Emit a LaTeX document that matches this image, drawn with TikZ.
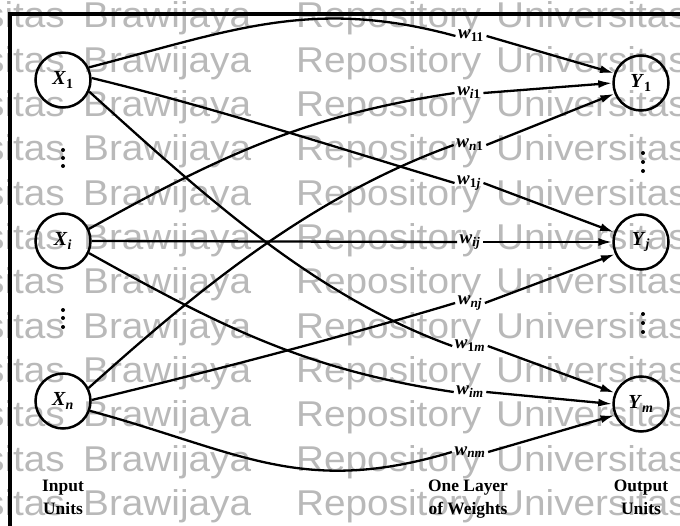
\documentclass[tikz,border=0pt]{standalone}
\usepackage{fontspec}
\setmainfont{Liberation Serif}
\newfontfamily\wmfont[FakeStretch=1.08]{Liberation Sans}
\usetikzlibrary{arrows.meta}
\definecolor{wmgray}{RGB}{185,185,185}
\newcommand\lab[2]{\textit{#1}\textsubscript{#2}}
\tikzset{
  unit/.style={circle, draw, line width=2.5bp, minimum size=55bp, inner sep=0pt, font=\fontsize{20}{22}\selectfont\bfseries},
  wlab/.style={inner sep=2.5bp, font=\fontsize{19}{21}\selectfont\bfseries},
  conn/.style={line width=2.3bp},
  arr/.style={conn, -{Latex[length=14bp,width=8bp]}},
  capt/.style={align=center, font=\fontsize{17.5}{23}\selectfont\bfseries, anchor=north, inner sep=0pt},
  wm/.style={text=wmgray, font=\wmfont\fontsize{36}{36}\selectfont, inner sep=0pt},
  vdot/.style={circle, fill, inner sep=0pt, minimum size=4bp},
  frame/.style={line width=4bp}
}
\begin{document}
\begin{tikzpicture}[x=1bp,y=-1bp]
\useasboundingbox (0,0) rectangle (680,526);
% watermark
\begin{scope}
\clip (0,0) rectangle (680,526);
\foreach \k in {0,...,11}{
  \pgfmathsetmacro\yy{28+44.3*\k}
  \node[wm, anchor=base east] (wa\k) at (65,\yy) {sitas};
  \node[wm, anchor=base west] (wb\k) at (83,\yy) {Brawijaya};
  \node[wm, anchor=base west] (wc\k) at (296,\yy) {Repository};
  \node[wm, anchor=base west] (wd\k) at (496,\yy) {Universitas};
}
\end{scope}
% frame
\coordinate (fb) at (10,526);
\coordinate (fc) at (10,14);
\coordinate (fr) at (680,14);
\draw[frame] (fb) -- (fc) -- (fr);
% units
\node[unit] (X1) at (63,80) {\lab{X}{1}};
\node[unit] (Xi) at (63,241) {\lab{X}{\textit{i}}};
\node[unit] (Xn) at (63,401) {\lab{X}{\textit{n}}};
\node[unit] (Y1) at (641,83) {\lab{Y}{1}};
\node[unit] (Yj) at (641,242) {\lab{Y}{\textit{j}}};
\node[unit] (Ym) at (641,404) {\lab{Y}{\textit{m}}};
% dots
\foreach \p/\q [count=\c] in {63/150,63/158,63/166,63/310,63/318,63/327,643/153,643/162,643/171,643/314,643/323,643/332}{
  \node[vdot] (d\c) at (\p,\q) {};
}
% weight labels
\node[wlab] (w11) at (471,36) {\lab{w}{11}};
\node[wlab] (wi1) at (469,93) {\lab{w}{\textit{i}1}};
\node[wlab] (wn1) at (470,145) {\lab{w}{\textit{n}1}};
\node[wlab] (w1j) at (469,183) {\lab{w}{1\textit{j}}};
\node[wlab] (wij) at (470,242) {\lab{w}{\textit{ij}}};
\node[wlab] (wnj) at (470,303) {\lab{w}{\textit{nj}}};
\node[wlab] (w1m) at (470,346) {\lab{w}{1\textit{m}}};
\node[wlab] (wim) at (470,392) {\lab{w}{\textit{im}}};
\node[wlab] (wnm) at (470,452) {\lab{w}{\textit{nm}}};
% connectors: input to label
\draw[conn] (X1.26) .. controls +(143,-37) and +(-143,-39) .. (w11.west);
\draw[conn] (X1.4) .. controls +(120,29) and +(-120,-36) .. (w1j.west);
\draw[conn] (X1.336) .. controls +(111,100) and +(-141,-51) .. (w1m.west);
\draw[conn] (Xi.25) .. controls +(131,-73) and +(-148,22) .. (wi1.west);
\draw[conn] (Xi.east) -- (wij.west);
\draw[conn] (Xi.335) .. controls +(131,73) and +(-148,-22) .. (wim.west);
\draw[conn] (Xn.27) .. controls +(111,-100) and +(-141,51) .. (wn1.west);
\draw[conn] (Xn.2) .. controls +(120,-29) and +(-120,36) .. (wnj.west);
\draw[conn] (Xn.340) .. controls +(150,41) and +(-150,45) .. (wnm.west);
% connectors: label to output
\draw[arr] (w11.east) -- (Y1.160);
\draw[arr] (wi1.east) -- (Y1.180);
\draw[arr] (wn1.east) -- (Y1.202);
\draw[arr] (w1j.east) -- (Yj.160);
\draw[arr] (wij.east) -- (Yj.west);
\draw[arr] (wnj.east) -- (Yj.205);
\draw[arr] (w1m.east) -- (Ym.157);
\draw[arr] (wim.east) -- (Ym.180);
\draw[arr] (wnm.east) -- (Ym.203);
% captions
\node[capt] (inp) at (63,480) {Input\\Units};
\node[capt] (layer) at (468,480) {One Layer\\of Weights};
\node[capt] (outp) at (641,480) {Output\\Units};
\end{tikzpicture}
\end{document}
